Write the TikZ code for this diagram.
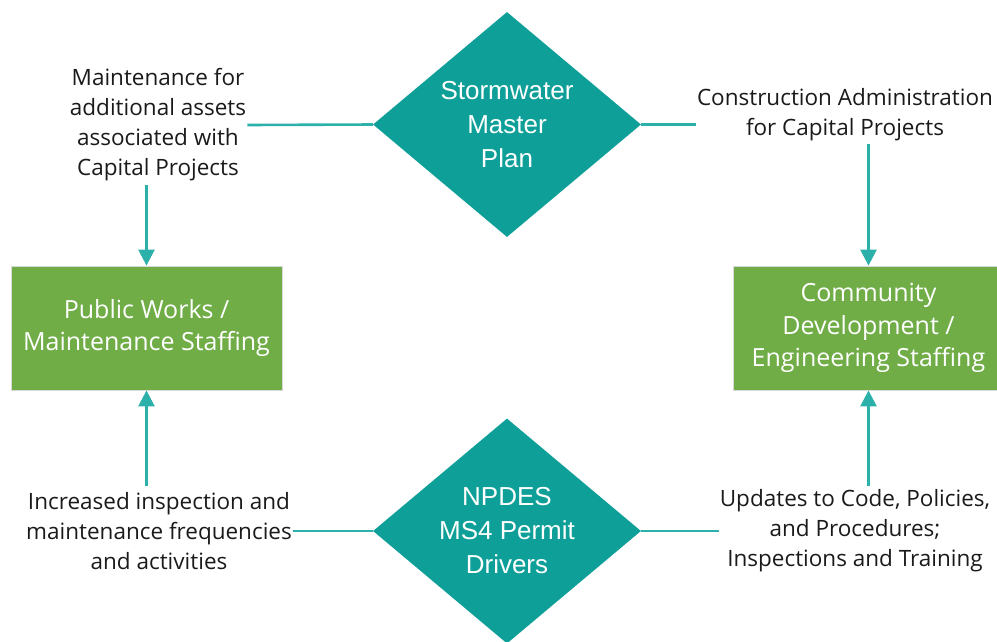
\documentclass[tikz,border=0pt]{standalone}
\usepackage{fontspec}
\setmainfont{Open Sans}
\newfontfamily\diafont{Liberation Sans}
\usetikzlibrary{shapes.geometric,arrows.meta,calc}
\definecolor{teal1}{HTML}{0E9F98}
\definecolor{teal2}{HTML}{2BB0AA}
\definecolor{grn}{HTML}{70AD47}
\definecolor{txt}{HTML}{1A1A1A}
\begin{document}
\begin{tikzpicture}[x=1pt,y=-1pt,
 dia/.style={diamond, fill=teal1, minimum width=268pt, minimum height=225pt, inner sep=0pt, text=white, font=\diafont\fontsize{26}{34}\selectfont, align=center},
 box/.style={rectangle, fill=grn, draw=black!15, line width=0.8pt, minimum width=271pt, minimum height=124pt, text=white, font=\fontsize{25}{32.5}\selectfont, align=center, inner sep=0pt},
 lbl/.style={text=txt, font=\fontsize{22.5}{30}\selectfont, align=center, inner sep=1pt},
 conn/.style={draw=teal2, line width=2.6pt},
 arr/.style={conn, -{Triangle[width=16pt,length=16pt]}}]
\useasboundingbox (0,0) rectangle (997,641);
\node[dia] (sw) at (507,124.5) {Stormwater\\Master\\Plan};
\node[dia] (nd) at (507,531) {NPDES\\MS4 Permit\\Drivers};
\node[box] (pw) at (146.5,328) {Public Works /\\Maintenance Staffing};
\node[box] (cd) at (868.5,328) {Community\\Development /\\Engineering Staffing};
\node[lbl] (tl) at (158,125) {Maintenance for\\additional assets\\associated with\\Capital Projects};
\node[lbl] (tr) at (845,115) {Construction Administration\\for Capital Projects};
\node[lbl] (bl) at (159,531) {Increased inspection and\\maintenance frequencies\\and activities};
\node[lbl] (br) at (855,531) {Updates to Code, Policies,\\and Procedures;\\Inspections and Training};
\draw[conn] (tl.east) -- (sw.west);
\draw[conn] (sw.east) -- (sw.east -| tr.west);
\draw[conn] (bl.east) -- (nd.west);
\draw[conn] (nd.east) -- (br.west);
\draw[arr] ([yshift=81pt]pw.north) -- (pw.north);
\draw[arr] ([yshift=122pt]cd.north) -- (cd.north);
\draw[arr] ([yshift=-96pt]pw.south) -- (pw.south);
\draw[arr] ([yshift=-96pt]cd.south) -- (cd.south);
\end{tikzpicture}
\end{document}
